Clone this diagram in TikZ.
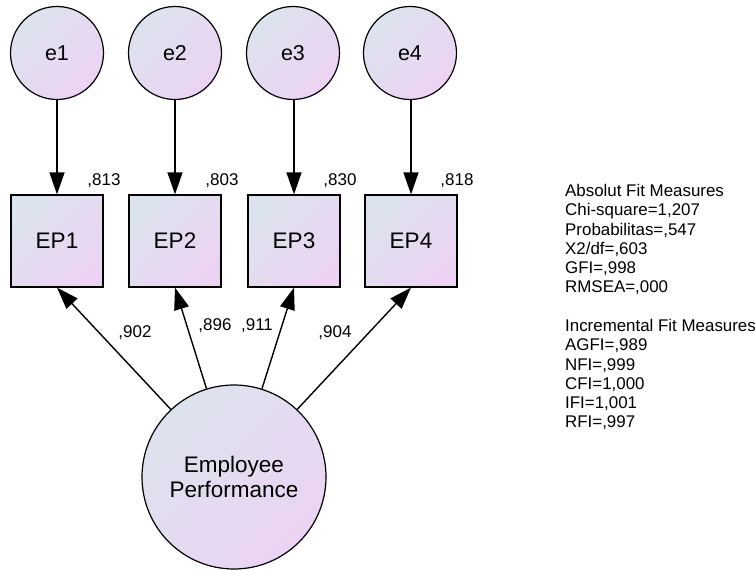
\documentclass[tikz,border=0pt]{standalone}
\usepackage{fontspec}
\setmainfont{Liberation Sans}
\usetikzlibrary{arrows.meta}
\definecolor{gA}{HTML}{DDE3EE}
\definecolor{gB}{HTML}{ECD3F3}
\tikzset{
  shade/.style={left color=gA, right color=gB, shading angle=45},
  errc/.style={circle, draw, line width=1.2pt, shade, minimum size=93pt, inner sep=0pt, font=\fontsize{21.5}{24}\selectfont},
  obsbox/.style={rectangle, draw, line width=1.2pt, shade, minimum size=92pt, inner sep=0pt, font=\fontsize{22.5}{25}\selectfont},
  latc/.style={circle, draw, line width=1.2pt, shade, minimum size=184pt, inner sep=0pt, align=center, font=\fontsize{22.5}{25}\selectfont},
  conn/.style={line width=1.4pt, -{Triangle[length=22pt,width=15pt]}},
  lab/.style={font=\fontsize{17}{18}\selectfont, inner sep=0pt},
  fit/.style={font=\fontsize{16.9}{19.3}\selectfont, align=left, anchor=north west, inner sep=0pt}
}
\begin{document}
\begin{tikzpicture}[x=1pt,y=-1pt]
\useasboundingbox (0,0) rectangle (756,570);
\node[errc] (e1) at (57,53) {e1};
\node[errc] (e2) at (175,53) {e2};
\node[errc] (e3) at (293,53) {e3};
\node[errc] (e4) at (410,53) {e4};
\node[obsbox] (ep1) at (57,241) {EP1};
\node[obsbox] (ep2) at (175,241) {EP2};
\node[obsbox] (ep3) at (294,241) {EP3};
\node[obsbox] (ep4) at (411,241) {EP4};
\node[latc] (lat) at (234,477) {Employee\\Performance};
\draw[conn] (e1) -- (ep1);
\draw[conn] (e2) -- (ep2);
\draw[conn] (e3.south -| ep3) -- (ep3);
\draw[conn] (e4.south -| ep4) -- (ep4);
\draw[conn] (lat) -- (ep1.south);
\draw[conn] (lat) -- (ep2.south);
\draw[conn] (lat) -- (ep3.south);
\draw[conn] (lat) -- (ep4.south);
\node[lab] (r1) at (104,181) {,813};
\node[lab] (r2) at (222,181) {,803};
\node[lab] (r3) at (340,181) {,830};
\node[lab] (r4) at (457,181) {,818};
\node[lab] (l1) at (135,333) {,902};
\node[lab] (l2) at (215,326) {,896};
\node[lab] (l3) at (257,326) {,911};
\node[lab] (l4) at (335,333) {,904};
\node[fit] (fitA) at (565,184) {Absolut Fit Measures\\Chi-square=1,207\\Probabilitas=,547\\X2/df=,603\\GFI=,998\\RMSEA=,000};
\node[fit] (fitB) at (565,319) {Incremental Fit Measures\\AGFI=,989\\NFI=,999\\CFI=1,000\\IFI=1,001\\RFI=,997};
\end{tikzpicture}
\end{document}
